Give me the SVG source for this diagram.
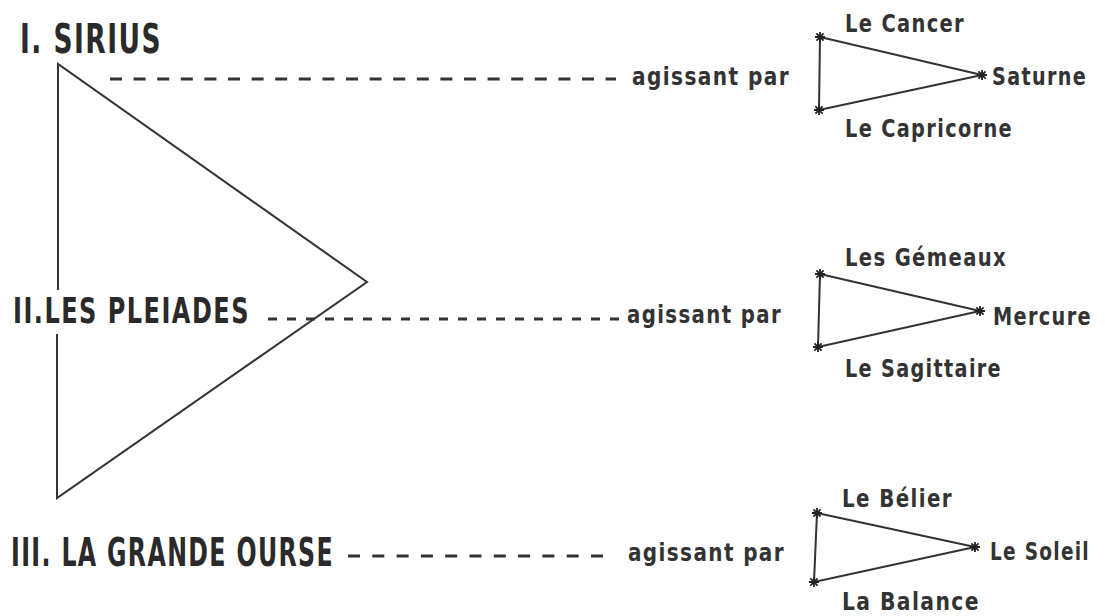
<svg xmlns="http://www.w3.org/2000/svg" width="1105" height="616" viewBox="0 0 1105 616">
<style>
.title{font-family:"DejaVu Sans Condensed","Liberation Sans",Arial,sans-serif;font-stretch:condensed;font-weight:bold;fill:#2a2a2a;letter-spacing:2px;}
.lbl{font-family:"DejaVu Sans Condensed","Liberation Sans",Arial,sans-serif;font-stretch:condensed;font-weight:bold;font-size:24px;fill:#333;letter-spacing:1.5px;}
.ag{font-family:"DejaVu Sans Condensed","Liberation Sans",Arial,sans-serif;font-stretch:condensed;font-weight:bold;font-size:24px;fill:#333;letter-spacing:1.5px;}
.edge{fill:none;stroke:#333;stroke-width:2;}
.dash{fill:none;stroke:#333;stroke-width:3;}
</style>
<defs>
<marker id="star" viewBox="-6 -6 12 12" markerWidth="12" markerHeight="12" markerUnits="userSpaceOnUse" refX="0" refY="0" orient="0">
<path d="M-5,0 L5,0 M0,-5 L0,5 M-3.6,-3.6 L3.6,3.6 M-3.6,3.6 L3.6,-3.6" stroke="#222" stroke-width="1.8"/>
</marker>
</defs>
<rect width="1105" height="616" fill="#fff"/>
<g id="connectors">
<path class="edge" d="M58,290 L58,64 L367,282 L57,498 L57,334"/>
<line class="dash" x1="110" y1="79" x2="616" y2="79" stroke-dasharray="12 11.6"/>
<line class="dash" x1="268" y1="319" x2="621" y2="319" stroke-dasharray="9 10"/>
<line class="dash" x1="348" y1="556" x2="614" y2="556" stroke-dasharray="12 12.3"/>
</g>
<g id="sirius">
<text class="title" x="20" y="53" font-size="41" textLength="142" lengthAdjust="spacingAndGlyphs">I. SIRIUS</text>
<text class="ag" x="632" y="85" textLength="158" lengthAdjust="spacingAndGlyphs">agissant par</text>
</g>
<g id="triangle-saturne">
<path class="edge" d="M820,37 L982,75 L819,110 Z" marker-start="url(#star)" marker-mid="url(#star)"/>
<text class="lbl" x="845" y="32" textLength="120" lengthAdjust="spacingAndGlyphs">Le Cancer</text>
<text class="lbl" x="992" y="85" textLength="95" lengthAdjust="spacingAndGlyphs">Saturne</text>
<text class="lbl" x="845" y="137" textLength="168" lengthAdjust="spacingAndGlyphs">Le Capricorne</text>
</g>
<g id="pleiades">
<text class="title" x="13" y="323" font-size="36" textLength="237" lengthAdjust="spacingAndGlyphs">II.LES PLEIADES</text>
<text class="ag" x="627" y="323" textLength="155" lengthAdjust="spacingAndGlyphs">agissant par</text>
</g>
<g id="triangle-mercure">
<path class="edge" d="M820,274 L980,311 L818,347 Z" marker-start="url(#star)" marker-mid="url(#star)"/>
<text class="lbl" x="845" y="266" textLength="162" lengthAdjust="spacingAndGlyphs">Les Gémeaux</text>
<text class="lbl" x="993" y="325" textLength="99" lengthAdjust="spacingAndGlyphs">Mercure</text>
<text class="lbl" x="845" y="377" textLength="157" lengthAdjust="spacingAndGlyphs">Le Sagittaire</text>
</g>
<g id="grande-ourse">
<text class="title" x="11" y="566" font-size="39" textLength="323" lengthAdjust="spacingAndGlyphs">III. LA GRANDE OURSE</text>
<text class="ag" x="628" y="561" textLength="157" lengthAdjust="spacingAndGlyphs">agissant par</text>
</g>
<g id="triangle-soleil">
<path class="edge" d="M817,513 L975,547 L814,582 Z" marker-start="url(#star)" marker-mid="url(#star)"/>
<text class="lbl" x="842" y="507" textLength="111" lengthAdjust="spacingAndGlyphs">Le Bélier</text>
<text class="lbl" x="990" y="560" textLength="100" lengthAdjust="spacingAndGlyphs">Le Soleil</text>
<text class="lbl" x="842" y="610" textLength="138" lengthAdjust="spacingAndGlyphs">La Balance</text>
</g>
</svg>
